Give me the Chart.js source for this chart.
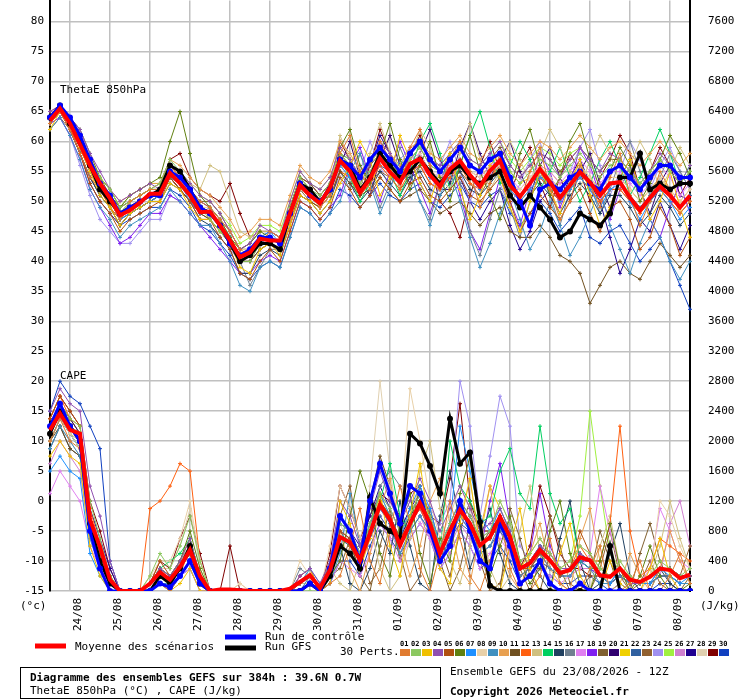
<!DOCTYPE html>
<html>
<head>
<meta charset="utf-8">
<script src="https://cdn.jsdelivr.net/npm/chart.js@4.4.1/dist/chart.umd.min.js"></script>
<style>
  body { margin: 0; background: #fff; }
  #wrap { width: 740px; height: 700px; overflow: hidden; position: relative; }
  #c { position: absolute; left: 0; top: -24px; }
</style>
</head>
<body>
<div id="wrap"><canvas id="c" width="740" height="724"></canvas></div>
<script>
/* ================= DATA ================= */
// 6h steps from 23/08 12Z to +384h
const steps = [];
for (let h = 0; h <= 384; h += 6) steps.push(h);
const dayLabels = ["24/08","25/08","26/08","27/08","28/08","29/08","30/08","31/08",
                   "01/09","02/09","03/09","04/09","05/09","06/09","07/09","08/09"];
const leftTicks = [-15,-10,-5,0,5,10,15,20,25,30,35,40,45,50,55,60,65,70,75,80];

const pertColors = ["#e07b30","#8cc860","#f0c000","#9050b0","#b05010","#608010","#1e90ff","#e8d0a8",
  "#4090c0","#e8a050","#705020","#ff6010","#d0c080","#00d060","#204060","#708090","#e080f0","#8020f0",
  "#806030","#300070","#f0d000","#3060a0","#906030","#a090f0","#a0f040","#d080d0","#200090","#e0d0b0",
  "#800000","#1040c0"];

// ThetaE 850hPa (°C)
const thetaMean = [63.5,65.5,63,59.5,56, 53,50.5,47.7,48.5,49.8, 51.3,51.3,54.7,53,51, 48.2,48.3,46,43.5,40.7,
  41.5,43.8,43.5,43.5,48, 52.7,51,49.7,52.3,56.8, 55,51.5,53.8,57.2,54.9, 53.2,56.3,57.1,54.4,52.5,
  55.4,56.8,54.4,52.5,55.1, 56.8,52.7,50.8,53,55.4, 53.2,50.6,52.7,54.9,53.2, 51,53,53.2,50.6,48.5,
  50.6,52.5,51,49,51];
const thetaCtrl = "64 66 64 61 57 53 51 48 49 50 51 51 55 54 52 49 48 46 43 41 42 44 44 43 48 53 51 50 52 57 56 54 57 59 57 55 58 60 57 55 57 59 56 55 57 58 54 50 46 52 53 52 54 55 53 52 55 56 54 52 54 56 56 54 54";
const thetaGfs  = "64 66 63 60 56 52 50 48 49 50 51 52 56 55 52 49 48 46 43 40 41 43 43 42 48 53 52 50 52 57 56 52 54 58 56 54 55 57 55 53 55 56 54 53 54 55 51 49 51 49 47 44 45 48 47 46 48 54 54 58 52 53 52 53 53";
const thetaPerts = [
  "63 65 62 58 54 52 50 47 50 51 52 52 56 54 52 50 49 47 45 42 41 43 45 44 47 52 52 49 51 58 61 55 52 60 57 52 59 62 56 52 57 60 55 49 53 58 54 50 55 59 52 47 50 56 53 49 54 58 51 46 50 55 52 48 50",
  "64 66 64 61 57 54 52 49 50 51 52 53 57 55 52 49 47 45 43 40 40 43 43 42 49 54 52 51 53 58 56 53 55 58 57 54 57 59 56 55 57 59 56 55 57 58 55 53 55 57 56 54 56 58 56 54 56 57 55 53 55 57 55 53 55",
  "62 65 63 59 55 51 49 46 48 49 50 50 53 52 49 47 47 45 43 39 38 42 43 41 46 51 50 48 50 53 56 60 57 51 54 61 57 53 50 55 58 52 47 51 56 54 49 45 50 55 52 48 53 57 51 46 49 54 57 52 47 50 55 49 44",
  "65 66 64 62 58 55 52 50 51 52 53 52 56 55 53 51 50 48 45 42 43 46 45 44 50 55 53 52 54 59 57 54 56 60 58 55 58 60 57 56 58 60 57 56 58 60 56 54 56 58 57 54 57 59 57 55 58 57 55 52 55 58 56 53 56",
  "63 65 62 58 53 50 48 45 47 48 49 50 54 52 50 47 47 44 42 38 37 40 42 40 45 50 49 47 49 54 52 49 51 54 52 50 53 54 51 50 52 54 51 50 52 54 50 45 48 51 49 47 50 52 48 45 49 50 47 42 44 49 46 41 44",
  "64 66 64 62 58 54 52 49 51 52 53 54 60 65 58 51 49 47 44 42 43 45 44 43 49 54 52 50 51 59 62 56 53 58 63 57 52 56 60 54 50 56 61 55 51 47 52 58 62 56 51 54 60 63 57 52 55 59 56 50 53 57 61 58 54",
  "63 65 63 60 56 53 50 47 48 49 50 51 54 53 50 48 48 46 44 41 42 44 45 43 48 53 51 50 52 56 54 52 54 57 55 53 56 57 54 53 55 57 54 52 55 57 52 50 52 54 53 50 52 54 52 49 52 53 50 47 50 52 50 47 49",
  "64 66 63 59 55 52 50 48 49 50 51 52 55 53 51 49 49 47 45 42 42 44 44 43 47 52 51 49 51 56 55 52 54 57 55 54 56 58 55 54 55 57 55 54 55 56 53 52 54 56 54 52 54 56 54 52 54 54 52 50 52 54 52 50 52",
  "62 64 61 57 52 49 47 44 46 47 48 49 52 50 48 46 46 43 40 36 35 39 40 39 44 49 48 46 48 50 55 58 53 48 52 57 55 50 46 51 55 50 44 39 43 48 52 47 42 45 50 46 41 44 48 52 46 42 38 43 47 44 40 37 40",
  "65 66 64 61 57 54 52 50 51 52 53 53 57 56 54 52 51 49 47 44 45 47 47 46 51 56 54 53 55 60 58 55 57 60 58 56 59 60 58 57 59 61 58 57 59 61 58 56 58 60 59 57 59 61 59 57 59 60 58 56 58 60 58 56 58",
  "64 65 63 59 55 52 50 47 48 49 50 51 54 52 50 48 47 45 43 40 40 42 43 42 47 51 50 49 51 55 53 51 52 54 52 50 51 52 50 48 49 50 48 46 48 49 45 44 44 46 44 41 40 38 33 36 39 40 38 37 40 43 41 39 41",
  "63 65 62 59 55 52 49 47 49 50 51 52 56 54 52 49 48 46 43 40 41 43 43 42 46 51 50 49 51 55 54 51 53 56 54 52 55 56 53 52 54 56 53 52 54 56 52 50 52 54 52 50 52 54 52 50 52 52 50 48 50 52 50 48 50",
  "63 65 63 60 56 53 51 48 50 51 52 53 56 55 53 52 56 55 50 45 44 45 45 44 48 52 51 49 52 61 57 52 58 63 58 54 57 62 59 54 52 58 63 57 52 55 60 57 53 58 62 59 55 52 57 61 58 53 56 60 57 52 55 59 56",
  "64 66 64 61 56 53 51 48 50 51 52 52 55 54 52 49 48 46 44 41 41 44 44 43 48 53 52 50 52 57 54 50 53 58 55 51 55 60 63 58 52 56 61 65 59 53 56 60 57 52 55 59 54 50 53 57 60 56 51 54 58 62 58 53 56",
  "63 65 62 58 54 51 49 46 48 49 50 50 53 52 50 47 46 44 42 38 38 41 42 41 46 51 50 48 50 55 53 50 52 55 53 51 54 55 52 51 53 55 52 51 53 55 51 49 51 53 51 48 51 53 51 48 51 51 49 46 48 51 49 46 48",
  "64 65 62 59 55 52 50 47 49 50 51 51 54 53 51 48 49 47 44 40 36 39 42 42 47 52 51 49 51 55 52 58 54 49 53 59 55 50 47 53 58 53 45 41 47 52 49 44 50 55 51 46 52 56 53 48 52 57 60 55 51 54 58 55 52",
  "64 66 63 60 56 53 51 48 49 50 51 51 55 54 51 48 48 46 44 41 42 44 44 43 48 53 52 50 52 57 55 53 55 57 55 54 57 58 55 54 56 57 55 54 56 57 54 52 54 56 55 53 55 57 55 53 55 55 53 51 53 56 54 51 53",
  "63 64 61 57 52 49 46 43 44 46 48 48 51 50 48 46 44 42 40 38 38 40 41 40 45 50 49 47 49 51 56 59 54 50 55 60 56 52 48 53 57 51 45 42 48 54 50 46 52 58 55 49 53 59 56 51 47 52 56 52 47 44 49 53 48",
  "64 66 64 61 57 54 51 49 50 51 52 52 56 55 52 50 50 48 45 42 43 45 45 44 49 54 53 51 53 58 56 53 56 58 56 55 57 59 56 55 57 59 56 55 57 59 56 54 56 58 57 55 57 59 57 55 57 57 55 53 55 57 55 53 55",
  "64 65 62 58 53 50 48 46 48 49 50 51 54 52 50 48 48 46 43 40 41 43 43 42 47 52 51 49 51 56 60 54 51 57 61 56 53 58 62 57 53 59 63 58 54 57 60 55 51 56 59 54 50 55 58 53 49 54 57 52 48 53 56 51 50",
  "63 65 62 59 55 52 49 46 48 49 50 51 54 53 51 49 48 46 44 42 42 44 44 43 48 53 52 50 52 56 55 52 54 57 55 54 56 57 55 53 55 57 55 54 56 58 55 53 54 56 55 53 54 56 54 52 54 54 52 50 52 54 52 50 52",
  "64 66 63 60 56 53 50 48 49 50 51 52 55 54 51 49 48 46 44 41 41 43 44 43 48 52 51 50 52 56 55 52 54 56 55 53 55 57 54 53 55 56 54 53 55 56 53 51 53 55 53 51 53 55 53 51 53 53 51 49 51 53 51 49 51",
  "62 64 62 58 54 51 49 47 48 49 50 51 54 52 50 48 47 45 43 40 40 42 43 42 47 52 50 49 51 55 54 51 53 55 54 52 54 56 53 52 54 55 53 51 54 55 51 49 51 54 52 50 52 54 52 50 52 52 50 48 50 52 50 48 50",
  "63 64 61 56 51 47 45 43 43 45 47 47 51 50 48 46 46 44 42 40 40 42 43 42 47 52 51 49 51 54 50 55 60 56 52 57 59 54 51 56 60 55 50 54 58 53 49 53 57 60 54 50 55 59 62 56 51 55 60 57 52 56 59 55 52",
  "64 66 64 61 57 54 52 49 51 52 53 53 56 55 53 51 50 48 46 43 44 46 46 45 50 55 53 52 54 58 57 54 56 59 57 56 58 60 57 56 58 60 57 56 58 60 57 55 57 59 58 56 58 59 57 55 57 57 55 53 55 57 55 53 55",
  "63 65 63 59 55 52 50 47 49 50 51 51 55 53 51 48 48 46 43 40 40 43 43 42 47 52 51 49 51 56 54 52 54 56 54 53 55 56 54 52 54 56 54 52 54 56 53 51 53 55 54 52 54 56 54 52 54 54 52 50 52 54 52 50 52",
  "64 65 63 59 55 52 50 48 49 50 51 52 55 54 52 50 49 47 45 42 42 44 45 44 48 53 52 50 53 58 57 54 56 61 58 55 56 58 55 52 52 54 50 47 50 52 46 42 45 50 52 50 54 57 53 50 44 38 42 47 45 50 46 42 46",
  "64 66 63 60 56 53 51 48 50 51 52 52 56 54 52 49 49 47 45 42 42 44 44 43 48 53 52 50 52 57 55 52 54 57 55 53 56 57 54 53 55 57 54 53 55 57 53 51 53 55 53 51 53 55 53 51 53 53 51 49 51 53 51 49 51",
  "64 66 63 60 56 53 51 49 50 51 52 53 57 58 54 52 51 50 53 48 44 45 45 44 49 54 53 51 53 60 57 51 56 62 58 53 58 61 56 50 48 44 51 56 60 55 51 56 59 53 49 54 58 55 50 54 57 61 58 52 55 59 56 51 54",
  "63 65 62 58 54 51 49 46 47 48 49 49 52 51 49 46 45 43 41 38 37 39 40 39 44 49 48 46 48 52 51 49 51 53 51 50 52 53 50 49 51 53 50 49 51 52 48 46 48 50 48 45 47 49 44 43 45 46 43 40 42 44 40 36 32"
];

// CAPE (hundreds of J/kg)
const capeMean = [21.5,23.7,21.5,21,9.5, 5.9,1.5,0,0,0, 1,2.5,1.5,3.2,5.5, 2,0,0.2,0.2,0.1, 0,0,0,0,0.3,
  1.2,2.1,0.4,2.8,7.2, 6.5,4.1,7.7,11.5,9.5, 6.1,9,11.7,9,5, 8.1,10.8,9,6.1,7.2, 9.9,7.2,3,3.7,5.5,
  4.1,2.4,2.8,4.5,4.1, 2.1,1.9,3,1.5,1.2, 1.9,3,2.8,1.7,2.2];
const capeCtrl = "22 25 22 20 8 3 0 0 0 0 0 1 0.5 2 4 1 0 0 0 0 0 0 0 0 0 0 1 0 3 10 8 4 12 17 13 9 14 13 8 4 6 12 8 4 3 9 6 1 2 4 1 0 0 1 0 0 0 0 0 0 0 0 0 0 0";
const capeGfs  = "21 24 22 20 9 4 1 0 0 0 0 2 1 3 6 1 0 0 0 0 0 0 0 0 0 0 1 0 2 6 5 3 12.5 9 8 7 21 19.7 16.7 13 23 17 18.5 9.2 0.7 0 0 0 0 0 0 0 0 0 0 0 6 0 0 0 0 0 0 0 0";
const capePerts = [
  "20 23 20 19 8 4 1 0 0 0 0 1 0 2 6 1 0 0 0 0 0 0 0 0 0 1 2 0 1 2 6 11 4 1 8 14 9 3 0 5 12 7 2 0 4 10 3 0 0 2 7 1 0 0 3 6 0 0 1 4 0 0 2 5 1",
  "22 25 23 22 12 7 2 0 0 0 2 5 3 6 10 4 0 0 0 0 0 0 0 0 0 0 0 0 3 9 8 5 9 13 11 8 10 13 10 6 9 12 10 7 8 12 9 4 5 7 5 3 4 6 5 3 2 4 2 1 2 4 3 2 3",
  "18 20 18 17 6 2 0 0 0 0 0 1 0 1 3 0 0 0 0 0 0 0 0 0 0 0 1 0 1 12 9 3 7 13 6 2 10 17 8 3 1 9 15 6 1 0 6 11 3 0 0 5 9 2 0 0 4 1 0 0 3 7 2 0 0",
  "24 27 25 24 14 10 4 0 0 0 1 3 2 4 7 2 0 0 0 0 0 0 0 0 0 2 3 1 4 12 10 6 11 16 12 9 12 15 12 8 11 14 11 8 9 11 8 3 4 6 5 3 3 5 4 2 2 3 1 1 2 3 3 2 2",
  "23 26 24 22 10 5 1 0 0 0 1 4 2 3 5 1 0 0 0 0 0 0 0 0 0 1 2 0 3 8 7 4 8 12 10 7 9 12 9 5 8 11 9 6 7 10 7 3 3 5 4 2 3 8 5 2 2 3 1 1 2 3 3 2 2",
  "21 24 22 20 9 6 2 0 0 0 1 3 2 4 8 3 0 0 0 0 0 0 0 0 0 0 1 0 2 4 10 16 12 5 2 9 13 5 1 7 4 13 18 8 2 6 10 4 1 3 8 12 5 1 0 4 9 3 0 2 6 2 0 0 1",
  "16 18 16 15 5 2 0 0 0 0 0 1 0 2 4 1 0 0 0 0 0 0 0 0 0 1 3 1 3 9 8 5 9 13 10 7 11 14 11 6 9 22 16 10 8 11 8 3 4 6 4 2 3 5 4 2 1 3 1 1 1 3 2 1 2",
  "20 23 21 19 9 5 1 0 0 0 2 4 4 7 12 4 0 0 0 1 0 0 0 0 0 4 2 0 6 14 11 7 12 17 14 9 27 20 12 7 10 14 11 7 8 12 9 4 5 7 5 3 4 6 5 3 2 4 2 1 2 12 10 6 3",
  "19 22 20 18 7 3 0 0 0 0 0 1 1 2 4 1 0 0 0 0 0 0 0 0 0 0 2 0 1 5 13 6 8 11 9 5 8 10 8 4 7 10 8 5 6 9 6 2 3 5 3 2 2 4 3 1 1 2 1 1 1 2 2 1 1",
  "22 24 22 21 10 6 2 0 0 0 1 2 1 3 5 1 0 0 0 0 0 0 0 0 0 1 2 0 2 8 3 0 5 11 15 7 2 6 12 15 9 3 1 8 14 6 2 0 5 9 3 1 0 7 11 4 0 1 5 2 0 3 8 4 1",
  "20 22 19 18 8 4 1 0 0 0 0 2 1 3 6 2 0 0 0 0 0 0 0 0 0 0 1 0 3 8 6 3 12 18 14 8 10 13 9 5 8 11 9 6 8 10 7 3 4 6 4 2 3 5 4 2 1 2 1 1 1 2 2 1 1",
  "23 26 23 22 11 6 2 0 0 0 11 12 14 17 16 4 0 0 0 0 0 0 0 0 0 1 2 0 3 9 8 5 8 12 10 7 9 11 8 5 8 10 9 6 7 9 6 2 3 5 3 2 3 6 4 4 9 22 8 2 3 7 6 5 4",
  "21 24 21 20 9 5 1 0 0 0 0 2 1 4 6 1 0 0 0 0 0 0 0 0 0 1 1 0 3 1 0 4 9 3 0 2 7 16 20 11 4 1 6 10 3 0 2 8 14 5 1 0 3 0 0 6 10 3 0 0 2 6 12 7 3",
  "20 23 21 19 8 4 1 0 0 0 1 3 4 5 7 2 0 0 0 0 0 0 0 0 0 1 2 0 2 6 5 3 8 12 17 10 8 12 9 5 20 14 12 9 10 16 19 13 11 22 13 9 11 4 3 3 2 3 1 1 2 3 3 2 2",
  "19 22 19 18 8 4 1 0 0 0 0 1 1 3 5 1 0 0 0 0 0 0 0 0 0 1 2 0 2 6 1 0 3 8 5 12 6 1 0 10 16 9 3 7 11 5 1 0 4 2 0 7 12 4 0 1 5 9 2 0 0 3 1 0 0",
  "22 25 22 21 10 6 2 0 0 0 1 3 2 4 6 2 0 0 0 0 0 0 0 0 0 3 2 0 4 10 8 5 8 14 16 14 11 12 9 5 8 11 9 6 7 9 6 2 3 5 4 2 3 5 4 2 1 3 1 1 1 3 3 2 2",
  "13 16 14 12 6 3 1 0 0 0 0 1 0 2 3 0 0 0 0 0 0 0 0 0 0 0 1 0 1 4 3 2 5 9 7 4 7 9 7 3 5 8 6 3 5 7 5 1 2 3 2 1 2 3 5 14 8 3 2 1 3 11 8 4 3",
  "20 23 21 19 9 5 1 0 0 0 1 2 1 3 6 1 0 0 0 0 0 0 0 0 0 1 2 0 3 8 7 4 8 11 9 6 9 11 8 4 7 10 8 5 12 17 9 4 5 13 6 3 3 4 3 2 1 2 1 1 1 2 2 1 1",
  "21 24 22 20 9 5 1 0 0 0 1 2 1 3 5 1 0 0 0 0 0 0 0 0 0 0 1 0 2 3 7 2 0 6 11 4 8 14 10 4 0 3 9 5 1 0 11 7 2 0 5 3 0 0 2 8 4 0 0 5 9 4 1 0 2",
  "22 25 23 21 10 6 2 0 0 0 1 3 1 4 6 2 0 0 0 0 0 0 0 0 0 1 2 0 3 9 8 5 9 12 10 7 10 12 9 5 8 11 9 6 7 9 7 3 4 5 4 2 3 4 4 2 2 3 1 1 2 3 3 2 2",
  "22 25 23 21 10 6 2 0 0 0 1 3 2 4 7 2 0 0 0 0 0 0 0 0 0 1 3 0 4 8 7 4 9 13 10 7 10 12 9 5 8 11 9 7 14 11 8 3 5 7 5 3 3 5 4 2 2 3 1 1 2 3 3 2 2",
  "20 23 21 19 9 5 1 0 0 0 1 2 1 3 5 1 0 0 0 0 0 0 0 0 0 1 2 0 2 7 6 4 7 10 8 6 8 10 8 4 7 9 8 5 6 8 6 2 3 4 3 2 2 4 3 2 1 2 1 1 1 2 2 1 1",
  "21 24 22 20 9 6 1 0 0 0 0 2 1 3 6 1 0 0 0 0 0 0 0 0 0 0 1 0 3 10 14 6 1 3 9 5 0 2 11 6 2 8 12 4 0 1 6 3 0 4 10 6 1 0 0 3 8 2 0 1 4 1 0 2 6",
  "22 25 23 21 10 6 2 0 0 0 1 3 2 4 6 1 0 0 0 0 0 0 0 0 0 1 2 0 3 8 7 5 9 13 11 8 10 13 11 9 12 28 22 10 18 26 22 6 4 5 4 2 3 4 4 2 2 3 1 1 2 3 3 2 2",
  "21 24 22 20 9 5 1 0 0 0 1 2 1 3 6 1 0 0 0 0 0 0 0 0 0 1 2 0 3 7 6 4 8 12 10 7 9 11 8 5 8 10 9 6 7 9 6 2 3 5 5 3 4 10 24 14 5 3 2 1 1 2 2 1 1",
  "17 20 18 16 7 3 1 0 0 0 0 1 1 2 4 1 0 0 0 0 0 0 0 0 0 1 1 0 2 6 5 3 7 10 8 5 8 10 7 4 6 9 7 5 6 8 5 2 3 4 3 2 2 3 3 2 1 2 1 1 1 2 9 12 6",
  "22 25 23 21 11 7 3 0 0 0 1 3 2 4 7 2 0 0 0 0 0 0 0 0 0 1 2 0 4 9 8 6 10 14 11 8 11 13 10 6 9 12 10 7 8 10 7 3 4 6 4 2 3 5 4 2 2 3 1 1 2 3 3 2 2",
  "19 22 20 18 8 5 1 0 0 0 2 3 3 6 11 3 0 0 0 1 0 0 0 0 0 0 2 0 2 9 6 4 14 28 16 8 11 9 7 4 7 10 15 6 7 9 6 2 3 5 4 2 3 4 3 2 1 2 1 1 1 2 2 1 1",
  "23 26 24 22 12 8 3 0 0 0 1 4 3 7 10 5 0 0 6 0 0 0 0 0 0 2 3 0 5 14 11 7 10 13 12 10 13 14 10 9 15 25 12 8 8 10 7 3 6 14 10 5 3 3 2 2 2 3 1 1 2 3 3 2 2",
  "24 28 26 25 22 19 4 0 0 0 0 1 0 2 3 0 0 0 0 0 0 0 0 0 0 0 1 0 1 4 4 2 6 9 7 5 7 9 7 3 5 8 6 3 4 6 4 1 2 3 2 1 1 2 2 1 0 1 0 0 0 1 1 0 0"
];

/* ================= HELPERS ================= */
const nums = s => s.split(" ").map(Number);
const toJkg = arr => arr.map(v => v * 100);

const FONT = "'DejaVu Sans Mono', monospace";
const OFF = 24;                         // canvas is shifted up by this much
const PLOT_BOTTOM = 591 + OFF;
const PLOT_TOP = 25;                    // where Chart.js puts the chart area top
const unit = (PLOT_BOTTOM - (22 + OFF)) / 95;
const yMaxLeft = 80 + ((22 + OFF) - PLOT_TOP) / unit;
const yMaxRight = (yMaxLeft + 15) * 80; // 5 °C <-> 400 J/kg, -15 <-> 0

function pertSet(data, i, axis) {
  return {
    data, yAxisID: axis, borderColor: pertColors[i], backgroundColor: pertColors[i],
    borderWidth: 1, pointStyle: "cross", pointRadius: 2, pointBorderWidth: 1, order: 10 + i
  };
}

const datasets = [];
datasets.push({ data: thetaMean, yAxisID: "yL", borderColor: "#ff0000", borderWidth: 4, pointRadius: 0, order: 0 });
datasets.push({ data: capeMean.map(v => v * 100), yAxisID: "yR", borderColor: "#ff0000", borderWidth: 4, pointRadius: 0, order: 0 });
datasets.push({ data: nums(thetaCtrl), yAxisID: "yL", borderColor: "#0000ff", backgroundColor: "#0000ff", borderWidth: 3, pointRadius: 1.5, order: 1 });
datasets.push({ data: toJkg(nums(capeCtrl)), yAxisID: "yR", borderColor: "#0000ff", backgroundColor: "#0000ff", borderWidth: 3, pointRadius: 1.5, order: 1 });
datasets.push({ data: nums(thetaGfs), yAxisID: "yL", borderColor: "#000000", backgroundColor: "#000000", borderWidth: 3, pointRadius: 1.5, order: 2 });
datasets.push({ data: toJkg(nums(capeGfs)), yAxisID: "yR", borderColor: "#000000", backgroundColor: "#000000", borderWidth: 3, pointRadius: 1.5, order: 2 });
thetaPerts.forEach((s, i) => datasets.push(pertSet(nums(s), i, "yL")));
capePerts.forEach((s, i) => datasets.push(pertSet(toJkg(nums(s)), i, "yR")));

/* ================= DECORATION ================= */
const decor = {
  id: "decor",
  afterDraw(chart) {
    const c = chart.ctx, x = chart.scales.x;
    c.save();
    c.translate(0, OFF);
    c.fillStyle = "#000";
    c.font = "11px " + FONT;
    c.textBaseline = "middle";
    c.fillText("ThetaE 850hPa", 60, 90);
    c.fillText("CAPE", 60, 376);
    c.fillText("(°c)", 20, 606);
    c.fillText("(J/kg)", 700, 606);

    // date labels, rotated
    dayLabels.forEach((d, k) => {
      const px = x.getPixelForValue(2 + 4 * k) + 8;
      c.save();
      c.translate(px, 598);
      c.rotate(-Math.PI / 2);
      c.textAlign = "right";
      c.fillText(d, 0, 0);
      c.restore();
    });

    // legend
    c.lineWidth = 5;
    c.strokeStyle = "#ff0000"; c.beginPath(); c.moveTo(35, 646); c.lineTo(66, 646); c.stroke();
    c.strokeStyle = "#0000ff"; c.beginPath(); c.moveTo(225, 637); c.lineTo(256, 637); c.stroke();
    c.strokeStyle = "#000000"; c.beginPath(); c.moveTo(225, 648); c.lineTo(256, 648); c.stroke();
    c.fillText("Moyenne des scénarios", 75, 647);
    c.fillText("Run de contrôle", 265, 637);
    c.fillText("Run GFS", 265, 647);
    c.fillText("30 Perts.", 340, 652);
    c.font = "bold 7px " + FONT;
    pertColors.forEach((col, i) => {
      const px = 400 + i * 11;
      c.fillStyle = "#000";
      c.fillText(String(i + 1).padStart(2, "0"), px, 644);
      c.fillStyle = col;
      c.fillRect(px, 649, 10, 7);
    });

    // title box
    c.strokeStyle = "#000"; c.lineWidth = 1;
    c.strokeRect(20.5, 667.5, 420, 31);
    c.fillStyle = "#000";
    c.font = "bold 11px " + FONT;
    c.fillText("Diagramme des ensembles GEFS sur 384h : 39.6N 0.7W", 30, 678);
    c.font = "11px " + FONT;
    c.fillText("ThetaE 850hPa (°C) , CAPE (J/kg)", 30, 691);
    c.fillText("Ensemble GEFS du 23/08/2026 - 12Z", 450, 672);
    c.font = "bold 11px " + FONT;
    c.fillText("Copyright 2026 Meteociel.fr", 450, 692);
    c.restore();
  }
};

/* ================= CHART ================= */
new Chart(document.getElementById("c"), {
  type: "line",
  data: { labels: steps, datasets },
  options: {
    responsive: false, animation: false, events: [],
    plugins: { legend: { display: false }, tooltip: { enabled: false } },
    elements: { line: { tension: 0 } },
    scales: {
      x: {
        type: "category", offset: false,
        ticks: { display: false, autoSkip: false },
        grid: { color: ctx => (ctx.index % 4 === 2 ? "#c0c0c0" : "rgba(0,0,0,0)"), lineWidth: 1.5, drawTicks: false },
        border: { display: false },
        afterFit: s => { s.height = 724 - PLOT_BOTTOM; }
      },
      yL: {
        position: "left", min: -15, max: yMaxLeft,
        afterBuildTicks: s => { s.ticks = leftTicks.map(v => ({ value: v })); },
        ticks: { font: { family: FONT, size: 11 }, color: "#000", padding: 6 },
        grid: { color: "#c0c0c0", lineWidth: 1.5, drawTicks: false },
        border: { color: "#000", width: 2 },
        afterFit: s => { s.width = 50; }
      },
      yR: {
        position: "right", min: 0, max: yMaxRight,
        afterBuildTicks: s => { s.ticks = leftTicks.map(v => ({ value: (v + 15) * 80 })); },
        ticks: { font: { family: FONT, size: 11 }, color: "#000", padding: 18, callback: v => String(v) },
        grid: { display: false, drawTicks: false },
        border: { color: "#000", width: 2 },
        afterFit: s => { s.width = 50; }
      }
    }
  },
  plugins: [decor]
});
</script>
</body>
</html>
